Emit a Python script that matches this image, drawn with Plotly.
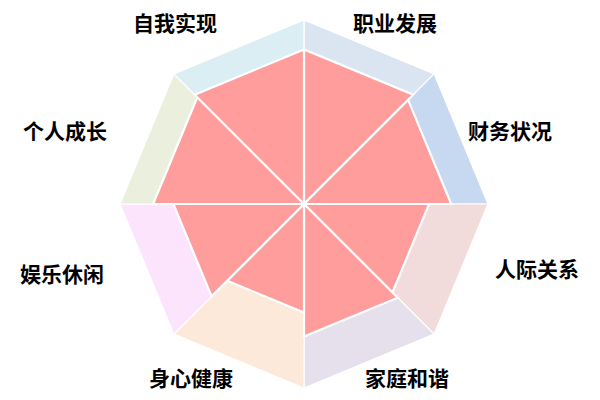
import plotly.graph_objects as go

categories = ["职业发展", "财务状况", "人际关系", "家庭和谐", "身心健康", "娱乐休闲", "个人成长", "自我实现"]
values = [8.4, 8.0, 6.8, 7.2, 5.9, 7.1, 8.2, 8.4]
max_value = 10
bg_colors = ["#DBE4F1", "#C6D9F1", "#F2DCDB", "#E5E0EC", "#FDE9D9", "#FCE4FC", "#EBF0DE", "#DBEEF3"]
fill_color = "#FF9D9D"
# label anchor positions (screen pixels in the 600x400 window)
label_px = [(395, 22), (510, 130), (537, 268), (407, 377), (191, 377), (62, 273), (65, 130), (175, 22)]

W, H, OFF = 592, 392, 8  # page body margin offsets the figure by 8px

n = len(categories)
step = 360 / n
fig = go.Figure()

for i in range(n):
    t1, t2 = i * step, (i + 1) * step
    fig.add_trace(go.Scatterpolar(
        r=[0, max_value, max_value, 0], theta=[t1, t1, t2, t1],
        mode="lines", fill="toself", fillcolor=bg_colors[i],
        line=dict(color="white", width=1.2), hoverinfo="skip", showlegend=False))

for i in range(n):
    t1, t2 = i * step, (i + 1) * step
    v = values[i]
    fig.add_trace(go.Scatterpolar(
        r=[0, v, v, 0], theta=[t1, t1, t2, t1],
        mode="lines", fill="toself", fillcolor=fill_color,
        line=dict(color="white", width=2.2), name=categories[i], showlegend=False))

annotations = []
for name, (px, py) in zip(categories, label_px):
    annotations.append(dict(
        x=(px - OFF) / W, y=1 - (py - OFF) / H, xref="paper", yref="paper",
        text="<b>" + name + "</b>", showarrow=False,
        xanchor="center", yanchor="middle",
        font=dict(family="Noto Sans CJK SC", size=21, color="black")))

fig.update_layout(
    width=W, height=H,
    margin=dict(l=0, r=0, t=0, b=0),
    paper_bgcolor="white", plot_bgcolor="white",
    polar=dict(
        domain=dict(x=[(120 - OFF) / W, (488 - OFF) / W],
                    y=[1 - (388 - OFF) / H, 1 - (20 - OFF) / H]),
        bgcolor="rgba(0,0,0,0)",
        radialaxis=dict(range=[0, max_value], visible=False),
        angularaxis=dict(rotation=90, direction="clockwise", visible=False, thetaunit="degrees"),
    ),
    annotations=annotations,
)

fig.write_html("out.html")
